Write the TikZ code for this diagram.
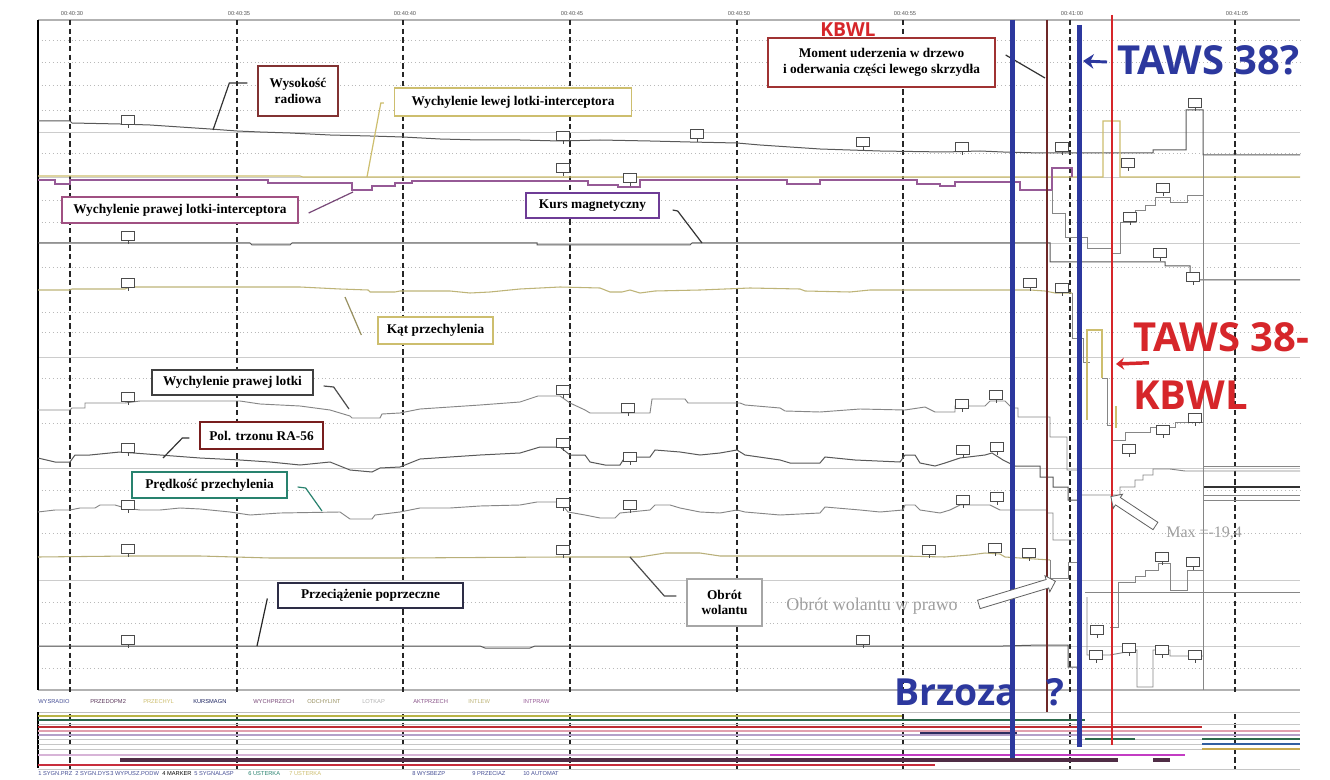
\documentclass[tikz,border=0pt]{standalone}
\usepackage{fontspec}
\setmainfont{Liberation Serif}
\newfontfamily\bigsans{Open Sans}
\newfontfamily\lsans{Liberation Sans}
\usetikzlibrary{calc,arrows.meta,shapes.arrows}
\definecolor{tblue}{RGB}{44,56,158}
\definecolor{tred}{RGB}{214,38,42}
\definecolor{tbrown}{RGB}{110,40,40}
\definecolor{tyel}{RGB}{205,190,110}
\definecolor{tpurp}{RGB}{150,90,150}
\definecolor{tteal}{RGB}{40,130,110}
\definecolor{tolive}{RGB}{190,180,120}
\newcommand\mylabfont{\fontsize{10}{11.5}\selectfont\bfseries}
\newcommand\mytinyfont{\lsans\fontsize{4.3}{5}\selectfont}
\begin{document}
\begin{tikzpicture}[x=0.75pt,y=-0.75pt,
  grid/.style={draw=gray!40,line width=0.6pt},
  dgrid/.style={draw=gray!55,line width=0.7pt,dash pattern=on 0.6pt off 2.2pt},
  vdash/.style={draw=black!85,line width=0.8pt,dash pattern=on 4pt off 2.5pt},
  tr/.style={draw=gray!95,line width=0.7pt},
  trd/.style={draw=gray!70!black,line width=0.75pt},
  lab/.style={draw,fill=white,line width=1pt,font=\mylabfont,align=center,inner sep=1.5pt},
  conn/.style={line width=0.9pt},
  vbox/.style={draw=gray!60!black,fill=white,line width=0.4pt,minimum width=10pt,minimum height=7pt,inner sep=0pt},
  vptr/.style={draw=gray!60!black,line width=0.5pt},
  big/.style={font=\bigsans\bfseries\fontsize{30}{43.5}\selectfont,inner sep=0pt},
  hollow/.style={single arrow,draw=gray!75!black,fill=white,line width=0.6pt,inner sep=3pt,single arrow head extend=3pt},
  bar/.style={line width=#1},
  timelab/.style={font=\mytinyfont,text=gray!70!black,inner sep=0pt},
  leg/.style={font=\mytinyfont,inner sep=0pt,anchor=west}
]
\fill[white] (0,0) rectangle (1330,780);
\useasboundingbox (0,0) rectangle (1330,780);

% ---------- grid ----------
\foreach \yy in {40,62,85,110,153,200,222,267,312,332,378,423,490,533,602,623,668}
  \draw[dgrid] (38,\yy) -- (1300,\yy);
\foreach \yy in {132,177,243,357,468,580,646}
  \draw[grid] (38,\yy) -- (1300,\yy);
\draw[draw=gray!60,line width=1pt] (38,20) -- (1300,20);
\draw[draw=gray!60,line width=0.8pt] (38,690) -- (1300,690);
\draw[black,line width=0.9pt] (38,20) -- (38,690);

% time labels and dashed lines
\foreach \xx/\tt in {70/00:40:30,237/00:40:35,403/00:40:40,570/00:40:45,737/00:40:50,903/00:40:55,1070/00:41:00,1235/00:41:05}{
  \node[timelab] at (\xx+2,14) {\tt};
  \draw[vdash] (\xx,20) -- (\xx,692);
  \draw[vdash] (\xx,714) -- (\xx,770);
}

% ---------- traces ----------
% radio altitude
\draw[trd] plot coordinates {(38,121) (70,121) (72,123) (120,124) (150,125) (180,127) (210,129) (237,131) (260,132) (290,133) (330,135) (370,136) (403,137) (440,139) (480,140) (520,140) (560,141) (600,140) (650,141) (690,142) (737,143) (760,145) (790,147) (820,149) (850,150) (880,151) (945,152) (980,151) (1003,152) (1040,153) (1153,153) (1153,150) (1186,150) (1186,110) (1203,110) (1203,155) (1300,155)};
% left spoiler (yellow)
\draw[draw=tyel,line width=0.8pt] plot coordinates {(38,176) (300,176) (303,177) (1072,177) (1103,177) (1103,121) (1120,121) (1120,177) (1300,177)};
% right spoiler (purple)
\draw[draw=tpurp,line width=0.8pt] plot coordinates {(38,180) (55,180) (55,184) (70,184) (70,180) (268,180) (268,183) (352,183) (352,190) (372,190) (372,186) (395,186) (395,183) (412,183) (412,181) (588,181) (588,185) (618,185) (618,187) (640,187) (640,180) (787,180) (787,184) (820,184) (820,180) (917,180) (917,184) (940,184) (940,186) (955,186) (955,182) (1003,182) (1020,182) (1020,190) (1052,190) (1052,168) (1072,168) (1072,177)};
% staircase
\draw[tr] plot coordinates {(1052,190) (1052,213) (1065,213) (1065,237) (1087,237) (1087,248) (1112,248) (1112,253) (1120,253) (1120,222) (1135,222) (1135,210) (1145,210) (1145,205) (1155,205) (1155,197) (1170,197) (1170,202) (1187,202) (1187,195) (1203,195)};
% heading
\draw[trd] plot coordinates {(38,243) (250,243) (252,245) (290,245) (292,243) (537,243) (537,245) (690,245) (692,243) (1050,243) (1050,262) (1165,262) (1165,266) (1190,266) (1190,280) (1300,280)};
% bank angle
\draw[draw=tolive,line width=0.8pt] plot coordinates {(38,290) (70,290) (72,289) (125,289) (130,287) (300,287) (340,289) (368,290) (370,292) (395,292) (400,291) (450,291) (470,293) (490,292) (520,289) (560,287) (600,288) (610,292) (622,292) (630,290) (640,293) (655,291) (700,290) (750,288) (800,289) (805,291) (850,292) (870,290) (1030,290) (1045,291) (1055,293) (1072,293)};
\draw[tr] plot coordinates {(1072,293) (1072,338) (1083,338) (1083,362) (1090,362)};
\draw[draw=tyel,line width=0.8pt] plot coordinates {(1087,420) (1087,330) (1102,330) (1102,378)};
\draw[tr] plot coordinates {(1102,378) (1107,378) (1107,425) (1112,425)};
\draw[draw=tyel,line width=0.8pt] (1116,406) -- (1116,428);
% right aileron
\draw[tr] plot coordinates {(38,410) (70,410) (72,408) (85,408) (85,403) (125,403) (140,401) (240,401) (260,404) (300,406) (330,410) (350,416) (352,418) (380,418) (382,414) (400,413) (420,409) (450,407) (480,405) (520,402) (538,396) (560,396) (570,403) (585,410) (590,413) (650,413) (652,399) (685,399) (688,403) (740,403) (745,405) (780,408) (785,411) (820,412) (860,409) (905,410) (925,407) (935,412) (955,412) (955,406) (985,406) (990,401) (1005,401) (1012,408) (1018,408) (1018,417) (1050,417) (1050,437) (1067,437) (1067,470) (1078,470)};
\draw[tr] plot coordinates {(1080,495) (1120,495) (1120,487) (1135,487) (1135,480) (1143,480) (1143,475) (1153,475) (1153,469) (1170,469) (1185,471) (1203,471) (1300,471)};
\draw[tr] plot coordinates {(1112,440) (1125,440) (1125,432) (1150,432) (1150,427) (1175,427) (1175,422) (1203,422)};
% RA-56
\draw[trd] plot coordinates {(38,458) (55,462) (70,462) (75,455) (90,455) (120,452) (160,455) (200,458) (240,460) (270,462) (300,465) (330,462) (350,470) (372,472) (380,468) (400,467) (420,459) (450,457) (480,455) (520,453) (540,447) (560,447) (570,455) (585,455) (590,462) (605,465) (620,465) (625,457) (650,457) (655,450) (680,452) (700,455) (720,453) (737,450) (745,455) (780,460) (790,463) (820,463) (825,457) (855,460) (900,462) (905,455) (915,455) (920,463) (935,466) (945,463) (960,458) (985,455) (992,453) (1003,460) (1015,466) (1040,466) (1040,477) (1053,477) (1053,487) (1068,487) (1068,500) (1078,500)};
\draw[tr] (1203,466) -- (1300,466);
\draw[draw=gray!40!black,line width=0.9pt] (1203,487) -- (1300,487);
\draw[tr] (1203,495) -- (1300,495);
\draw[tr] (1203,500) -- (1300,500);
% roll rate
\draw[tr] plot coordinates {(38,512) (55,510) (70,510) (80,508) (95,508) (100,505) (115,505) (125,508) (140,510) (160,510) (180,508) (200,509) (230,512) (250,515) (280,513) (340,512) (350,519) (372,519) (375,515) (400,512) (420,508) (450,508) (480,506) (520,505) (537,502) (560,502) (568,512) (585,515) (600,518) (615,518) (620,513) (650,510) (655,505) (670,505) (680,508) (700,512) (720,513) (737,510) (745,512) (780,515) (820,513) (825,507) (860,510) (880,512) (903,510) (905,505) (915,505) (920,510) (940,513) (950,510) (960,505) (990,505) (1000,510) (1047,510) (1047,513) (1053,513) (1053,540) (1075,540)};
% wheel rotation
\draw[draw=tolive!90!gray,line width=0.8pt] plot coordinates {(38,557) (130,556) (200,556) (270,558) (400,558) (560,557) (640,557) (665,553) (700,553) (720,556) (900,556) (945,557) (970,555) (985,553) (1000,554) (1005,557) (1050,560)};
\draw[tr] plot coordinates {(1050,560) (1050,578) (1068,578) (1068,562) (1078,562)};
\draw[tr] plot coordinates {(1110,627) (1118,627) (1118,582) (1135,582) (1135,576) (1145,576) (1145,570) (1158,570) (1158,563) (1170,563) (1170,590) (1187,590) (1187,570) (1203,570)};
\draw[tr] (1085,592) -- (1300,592);
% lateral g
\draw[trd] plot coordinates {(38,646) (300,646) (480,646) (485,648) (530,648) (535,646) (1003,646) (1040,645) (1068,645) (1068,667) (1078,667)};
\draw[tr] plot coordinates {(1087,597) (1087,655) (1110,655) (1137,650) (1137,687) (1153,687) (1153,650) (1170,650) (1170,656) (1203,656)};
% end of data
\draw[tr] (1203,155) -- (1203,690);

% value markers
\foreach \px/\py [count=\i] in {128/120,128/236,128/283,128/397,128/448,128/505,128/549,128/640,563/136,697/134,863/142,563/168,630/178,962/147,1062/147,1128/163,1195/103,1163/188,1130/217,1160/253,1193/277,563/390,628/408,563/443,630/457,563/503,630/505,1030/283,1062/288,962/404,996/395,963/450,997/447,963/500,997/497,1163/430,1195/418,1129/449,929/550,995/548,1029/553,1162/557,1193/562,1097/630,1096/655,1129/648,1162/650,1195/655,863/640,563/550}{
  \node[vbox] (vb\i) at (\px,\py) {};
  \draw[vptr] (vb\i.south) -- ++(0,3);
}

% ---------- bottom panel ----------
\foreach \tx/\tt/\cc in {38/WYSRADIO/tblue!70!gray,90/PRZEDOPM2/tpurp!60!black,143/PRZECHYL/tyel,193/KURSMAGN/tblue!60!black,253/WYCHPRZECH/tpurp!80!black,307/ODCHYLINT/tolive!80!black,362/LOTKAP/gray!60,413/AKTPRZECH/tpurp!90!black,468/INTLEW/tolive,523/INTPRAW/tpurp}
  \node[leg,text=\cc] at (\tx,702) {\tt};
\draw[gray!50,line width=0.5pt] (38,712) -- (1300,712);
\draw[black,line width=0.9pt] (38,712) -- (38,768);
\foreach \yy in {724,731,735,739,744,749,769}
  \draw[gray!45,line width=0.6pt] (38,\yy) -- (1300,\yy);
\draw[draw={rgb,255:red,185;green,180;blue,70},bar=1.4pt] (38,716) -- (902,716);
\draw[draw={rgb,255:red,45;green,105;blue,75},bar=1.6pt] (38,720) -- (1085,720);
\draw[draw={rgb,255:red,190;green,45;blue,50},bar=1.5pt] (38,727) -- (1202,727);
\draw[draw={rgb,255:red,225;green,160;blue,175},bar=1pt] (38,731) -- (1300,731);
\draw[draw={rgb,255:red,180;green,160;blue,200},bar=0.9pt] (38,735) -- (1300,735);
\draw[draw={rgb,255:red,45;green,45;blue,95},bar=1.6pt] (920,733) -- (1017,733);
\draw[draw={rgb,255:red,45;green,105;blue,75},bar=1.6pt] (1085,739) -- (1135,739);
\draw[draw={rgb,255:red,45;green,105;blue,75},bar=2pt] (1202,739) -- (1300,739);
\draw[draw={rgb,255:red,50;green,95;blue,160},bar=1.6pt] (1202,744) -- (1300,744);
\draw[draw={rgb,255:red,200;green,170;blue,80},bar=1.6pt] (1202,749) -- (1300,749);
\draw[draw={rgb,255:red,215;green,180;blue,215},bar=1pt] (38,755) -- (770,755);
\draw[draw={rgb,255:red,195;green,60;blue,195},bar=2pt] (770,755) -- (1185,755);
\draw[draw={rgb,255:red,80;green,45;blue,70},bar=2.3pt] (120,760) -- (1118,760);
\draw[draw={rgb,255:red,80;green,45;blue,70},bar=2.3pt] (1153,760) -- (1170,760);
\draw[draw={rgb,255:red,200;green,45;blue,60},bar=1.5pt] (38,765) -- (935,765);
\foreach \tx/\tt/\cc in {38/1 SYGN.PRZ/tblue!70!gray,75/2 SYGN.DYS/tblue!70!gray,110/3 WYPUSZ.PODW/tblue!70!gray,162/4 MARKER/black,194/5 SYGNALASP/tblue!70!gray,248/6 USTERKA/tteal,289/7 USTERKA/tyel,412/8 WYSBEZP/tblue!70!gray,472/9 PRZECIAZ/tblue!70!gray,523/10 AUTOMAT/tblue!70!gray}
  \node[leg,text=\cc] at (\tx,774) {\tt};

% ---------- annotation boxes ----------
\node[lab,draw={rgb,255:red,130;green,50;blue,50},minimum width=60pt,minimum height=37.5pt] (rad) at (298,91) {Wysokość\\radiowa};
\node[lab,draw=tyel,minimum width=177.75pt,minimum height=21pt] (lsp) at (513,102) {Wychylenie lewej lotki-interceptora};
\node[lab,draw={rgb,255:red,160;green,80;blue,130},minimum width=177pt,minimum height=19.5pt] (rsp) at (180,210) {Wychylenie prawej lotki-interceptora};
\node[lab,draw={rgb,255:red,110;green,60;blue,150},minimum width=99.75pt,minimum height=18.75pt] (kurs) at (592.5,205.5) {Kurs magnetyczny};
\node[lab,draw={rgb,255:red,160;green,50;blue,50},minimum width=170.25pt,minimum height=36.75pt] (mom) at (881.5,62.5) {Moment uderzenia w drzewo\\i oderwania części lewego skrzydła};
\node[lab,draw=tyel,minimum width=86.25pt,minimum height=20.25pt] (kat) at (435.5,330.5) {Kąt przechylenia};
\node[lab,draw=gray!50!black,minimum width=120.75pt,minimum height=18.75pt] (plot) at (232.5,382.5) {Wychylenie prawej lotki};
\node[lab,draw={rgb,255:red,120;green,30;blue,30},minimum width=92.25pt,minimum height=20.25pt] (pol) at (261.5,435.5) {Pol. trzonu RA-56};
\node[lab,draw=tteal,minimum width=116.25pt,minimum height=19.5pt] (pred) at (209.5,485) {Prędkość przechylenia};
\node[lab,draw={rgb,255:red,45;green,45;blue,70},minimum width=138.75pt,minimum height=18.75pt] (prz) at (370.5,595.5) {Przeciążenie poprzeczne};
\node[lab,draw=gray!70,minimum width=56.25pt,minimum height=35.25pt] (obr) at (724.5,602.5) {Obrót\\wolantu};

% connectors
\coordinate (c1c) at (213,130);
\coordinate (c2c) at (367,177);
\coordinate (c3b) at (353,192);
\coordinate (c4c) at (702,243);
\coordinate (c5b) at (1045,78);
\coordinate (c6b) at (345,297);
\coordinate (c7c) at (349,409);
\coordinate (c8c) at (163,458);
\coordinate (c9c) at (322,511);
\coordinate (c10b) at (257,646);
\coordinate (c11c) at (630,557);
\draw[conn,black!80] (rad.west) ++(-10,-8) -- ++(-18,0) -- (c1c);
\draw[conn,tyel] (lsp.west) ++(-10,1) -- ++(-3,0) -- (c2c);
\draw[conn,tpurp!80!black] (rsp.east) ++(10,3) -- (c3b);
\draw[conn,black!80] (kurs.east) ++(13,4.5) -- ++(5,1) -- (c4c);
\draw[conn,black!80] (mom.east) ++(10,-7.5) -- (c5b);
\draw[conn,tolive!80!black] (kat.west) ++(-16,4.5) -- (c6b);
\draw[conn,black!70] (plot.east) ++(10,3.5) -- ++(10,1) -- (c7c);
\draw[conn,black!80] (pol.west) ++(-10,2.5) -- ++(-7,0) -- (c8c);
\draw[conn,tteal] (pred.east) ++(10,2) -- ++(8,1) -- (c9c);
\draw[conn,black!85] (prz.west) ++(-10,3) -- (c10b);
\draw[conn,black!70] (obr.west) ++(-10,-6.5) -- ++(-12,0) -- (c11c);

% ---------- marker lines ----------
\draw[tblue,line width=3.75pt] (1012,20) -- (1012,758);
\draw[tbrown,line width=1.5pt] (1047,20) -- (1047,712);
\draw[tblue,line width=3.75pt] (1079,25) -- (1079,747);
\draw[tred,line width=1.1pt] (1112,15) -- (1112,745);

% ---------- free texts ----------
\node[font=\bigsans\bfseries\fontsize{14.5}{16}\selectfont,text=tred,inner sep=0pt] (kbwltop) at (848,30) {KBWL};
\node[big,text=tblue,anchor=north west] (taws) at (1117,45) {TAWS 38?};
\coordinate (tawsend) at (1083,61);
\draw[tblue,line width=2.2pt,-{Stealth[length=8pt,width=11pt]}] (taws.west) ++(-10,2) -- (tawsend);
\node[big,text=tred,anchor=north west,align=left] (kbwl) at (1133,322) {TAWS 38-\\KBWL};
\coordinate (redend) at (1116,364);
\draw[tred,line width=2.6pt,-{Stealth[length=6pt,width=9pt]}] (kbwl.west) ++(16,-3) -- (redend);
\node[big,text=tblue,anchor=north west,font=\bigsans\bfseries\fontsize{28}{30}\selectfont] (brz) at (894,678) {Brzoza\hspace{14pt} ?};
\node[text=gray!75,anchor=west,inner sep=0pt,font=\fontsize{13.5}{15}\selectfont] (obrp) at (786,606) {Obrót wolantu w prawo};
\node[text=gray!75,anchor=west,inner sep=0pt,font=\fontsize{12}{14}\selectfont] (maxt) at (1166,533) {Max =-19,4};
\node[hollow,rotate=16.8,minimum height=60pt] (ha1) at (1015,593.5) {};
\node[hollow,rotate=146.6,minimum height=40pt] (ha2) at (1135,512.5) {};
\end{tikzpicture}
\end{document}
